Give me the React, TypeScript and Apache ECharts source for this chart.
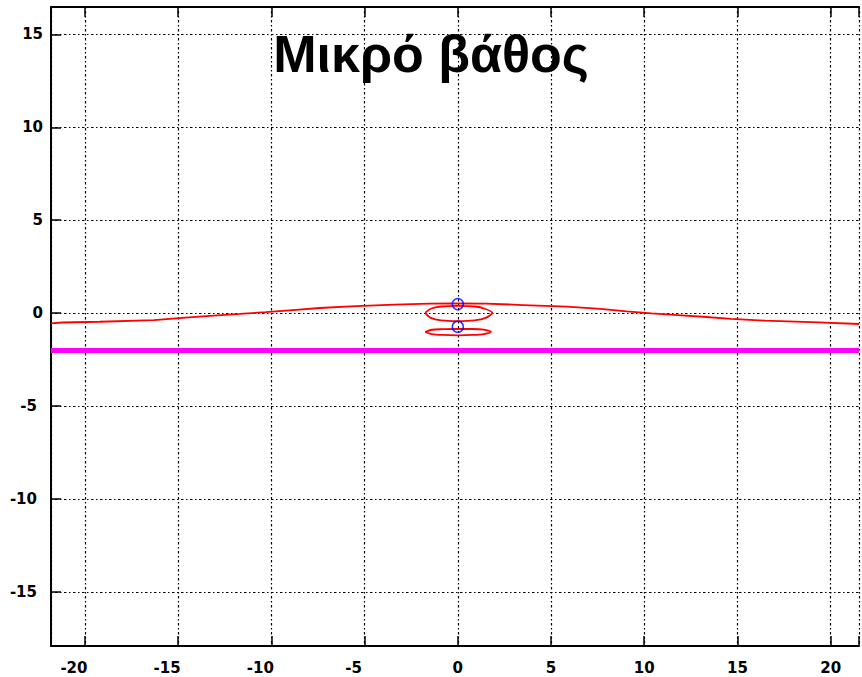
import React, { useEffect, useRef } from "react";
import * as echarts from "echarts";

// Axis limits and tick step
const xLimits = [-21.82, 21.52];
const yLimits = [-17.9, 16.47];
const tickStep = 5;

const titleText = "Μικρό βάθος";

// Outer red contour (left to right)
const outerX = [-21.82, -21.2, -19.2, -16.3, -14.6, -13.1, -11.7, -10.3, -8.85, -7.4, -5.75, -3.4, -1.5, 0, 1.5, 3.5, 5.85, 7.65, 9.05, 10.4, 11.8, 13.15, 14.65, 16.45, 19.35, 21.52];
const outerY = [-0.55, -0.5, -0.46, -0.37, -0.24, -0.13, -0.04, 0.06, 0.17, 0.28, 0.37, 0.46, 0.52, 0.53, 0.52, 0.44, 0.35, 0.23, 0.1, -0.01, -0.1, -0.19, -0.31, -0.4, -0.49, -0.58];

// Upper closed loop
const upperLoopX = [-1.75, -1.45, -0.9, 0, 0.9, 1.45, 1.85, 1.5, 0.9, 0, -0.9, -1.45, -1.75];
const upperLoopY = [0.02, 0.24, 0.36, 0.39, 0.36, 0.24, 0.02, -0.25, -0.39, -0.43, -0.39, -0.25, 0.02];

// Lower closed loop
const lowerLoopX = [-1.75, -1.4, -0.8, 0, 0.8, 1.4, 1.78, 1.4, 0.8, 0, -0.8, -1.4, -1.75];
const lowerLoopY = [-1.01, -0.89, -0.86, -0.85, -0.85, -0.88, -1.0, -1.12, -1.17, -1.19, -1.17, -1.12, -1.01];

// Blue source points
const pointX = [0, 0];
const pointY = [0.49, -0.73];

// Magenta level line
const levelY = -2;

const zip = (xs: number[], ys: number[]) => xs.map((x, i) => [x, ys[i]]);

const labelFont = {
  fontFamily: "DejaVu Sans",
  fontWeight: "bold" as const,
  fontSize: 15,
  color: "#000",
};

const isTick = (v: number) => Math.abs(v / tickStep - Math.round(v / tickStep)) < 1e-6;

const gridLine = {
  show: true,
  lineStyle: { color: "#000", width: 1.2, type: [1.5, 2.5, 2.5, 2.5] as number[] },
};

export default function App() {
  const ref = useRef<HTMLDivElement>(null);
  useEffect(() => {
    if (!ref.current) return;
    const chart = echarts.init(ref.current, null, { renderer: "svg" });
    const axisBase = {
      type: "value" as const,
      splitNumber: 8,
      minInterval: tickStep,
      maxInterval: tickStep,
      axisLine: { show: true, onZero: false, lineStyle: { color: "#000", width: 2 } },
      axisTick: { show: true, inside: true, length: 10, lineStyle: { color: "#000", width: 1.5 } },
    };
    chart.setOption({
      animation: false,
      backgroundColor: "#fff",
      grid: { left: 51, right: 0, top: 7, bottom: 31, containLabel: false },
      xAxis: [
        {
          ...axisBase,
          position: "bottom",
          min: xLimits[0],
          max: xLimits[1],
          splitLine: gridLine,
          axisLabel: {
            ...labelFont,
            margin: 14,
            showMinLabel: true,
            showMaxLabel: true,
            formatter: (v: number) => {
              if (!isTick(v)) return "";
              const r = Math.round(v);
              return r < 0 ? `{n|${r}}` : `{p|${r}}`;
            },
            rich: {
              n: { ...labelFont, padding: [0, 22, 0, 0] },
              p: { ...labelFont },
            },
          },
        },
        {
          ...axisBase,
          position: "top",
          min: xLimits[0],
          max: xLimits[1],
          splitLine: { show: false },
          axisLabel: { show: false },
        },
      ],
      yAxis: [
        {
          ...axisBase,
          position: "left",
          min: yLimits[0],
          max: yLimits[1],
          splitLine: gridLine,
          axisLabel: {
            ...labelFont,
            margin: 8,
            formatter: (v: number) => {
              if (!isTick(v)) return "";
              const r = Math.round(v);
              return r < 0 ? `{n|${r}}` : `{p|${r}}`;
            },
            rich: {
              n: { ...labelFont, padding: [0, 6, 0, 0] },
              p: { ...labelFont },
            },
          },
        },
      ],
      graphic: [
        {
          type: "text",
          x: 431,
          y: 54,
          style: {
            text: titleText,
            fill: "#000",
            fontFamily: "Liberation Sans, Arial, sans-serif",
            fontSize: 52,
            fontWeight: "bold",
            align: "center",
            verticalAlign: "middle",
          },
          z: 100,
        },
      ],
      series: [
        {
          type: "line",
          data: [
            [xLimits[0], levelY],
            [xLimits[1], levelY],
          ],
          showSymbol: false,
          symbol: "none",
          lineStyle: { color: "#ff00ff", width: 5 },
          silent: true,
          z: 3,
        },
        {
          type: "line",
          data: zip(outerX, outerY),
          showSymbol: false,
          symbol: "none",
          lineStyle: { color: "#ff0000", width: 1.8 },
          z: 4,
        },
        {
          type: "line",
          data: zip(upperLoopX, upperLoopY),
          showSymbol: false,
          symbol: "none",
          smooth: 0.3,
          lineStyle: { color: "#ff0000", width: 1.8 },
          z: 4,
        },
        {
          type: "line",
          data: zip(lowerLoopX, lowerLoopY),
          showSymbol: false,
          symbol: "none",
          smooth: 0.3,
          lineStyle: { color: "#ff0000", width: 1.8 },
          z: 4,
        },
        {
          type: "scatter",
          data: zip(pointX, pointY),
          symbol: "circle",
          symbolSize: 11,
          itemStyle: { color: "rgba(0,0,0,0)", borderColor: "#0000ff", borderWidth: 1.5 },
          z: 5,
        },
      ],
    });
    return () => chart.dispose();
  }, []);
  return (
    <div
      ref={ref}
      style={{ position: "fixed", left: 0, top: 0, width: 862, height: 677, background: "#fff" }}
    />
  );
}
